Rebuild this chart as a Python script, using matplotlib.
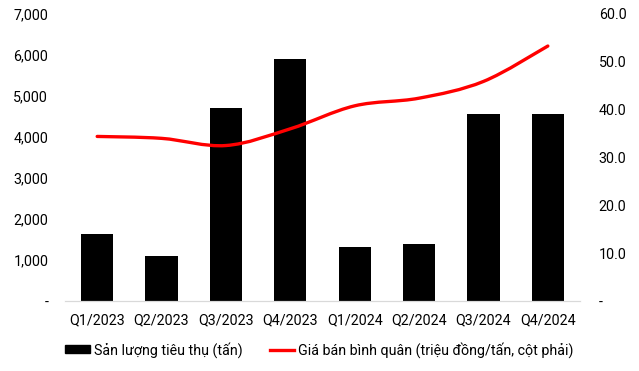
import matplotlib
matplotlib.use('Agg')
import matplotlib.pyplot as plt
from matplotlib.path import Path
from matplotlib.patches import PathPatch
from matplotlib.lines import Line2D
from matplotlib.patches import Rectangle
from matplotlib.ticker import FuncFormatter

plt.rcParams['font.family'] = ['Roboto', 'DejaVu Sans']
plt.rcParams['font.size'] = 10.3

quarters = ['Q1/2023', 'Q2/2023', 'Q3/2023', 'Q4/2023',
            'Q1/2024', 'Q2/2024', 'Q3/2024', 'Q4/2024']
volume = [1630, 1100, 4700, 5900, 1310, 1400, 4550, 4550]
price = [34.4, 34.0, 32.5, 36.0, 40.8, 42.4, 45.9, 53.3]

vol_label = 'Sản lượng tiêu thụ (tấn)'
price_label = 'Giá bán bình quân (triệu đồng/tấn, cột phải)'

fig = plt.figure(figsize=(6.39, 3.71), dpi=100)
ax = fig.add_axes([0.1017, 0.1887, 0.806, 0.7736])
ax2 = ax.twinx()

x = list(range(len(quarters)))
ax.bar(x, volume, width=0.5, color='black', zorder=2)
ax.set_xlim(-0.5, len(quarters) - 0.5)
ax.set_ylim(0, 7000)
ax.set_yticks(range(0, 7001, 1000))
ax.yaxis.set_major_formatter(FuncFormatter(lambda v, p: '-' if v == 0 else f'{v:,.0f}'))
ax.set_xticks(x)
ax.set_xticklabels(quarters)

ax2.set_ylim(0, 60)
ax2.set_yticks(range(0, 61, 10))
ax2.yaxis.set_major_formatter(FuncFormatter(lambda v, p: '-' if v == 0 else f'{v:.1f}'))

# smoothed line like excel (bezier through the points)
verts = [(x[0], price[0])]
codes = [Path.MOVETO]
n = len(price)
for i in range(n - 1):
    p0 = (x[max(i - 1, 0)], price[max(i - 1, 0)])
    p1 = (x[i], price[i])
    p2 = (x[i + 1], price[i + 1])
    p3 = (x[min(i + 2, n - 1)], price[min(i + 2, n - 1)])
    c1 = (p1[0] + (p2[0] - p0[0]) / 6, p1[1] + (p2[1] - p0[1]) / 6)
    c2 = (p2[0] - (p3[0] - p1[0]) / 6, p2[1] - (p3[1] - p1[1]) / 6)
    verts += [c1, c2, p2]
    codes += [Path.CURVE4] * 3
ax2.add_patch(PathPatch(Path(verts, codes), facecolor='none', edgecolor='#ff0000',
                        lw=2.4, capstyle='round', zorder=3))

for a in (ax, ax2):
    for s in ('top', 'left', 'right'):
        a.spines[s].set_visible(False)
    a.spines['bottom'].set_color('#d9d9d9')
    a.tick_params(length=0, colors='black')
ax.tick_params(axis='y', pad=12)
ax2.tick_params(axis='y', pad=13.5)
ax.tick_params(axis='x', pad=9)

handles = [Rectangle((0, 0), 1, 1, color='black'),
           Line2D([], [], color='#ff0000', lw=2.4)]
fig.legend(handles, [vol_label, price_label], loc='center', bbox_to_anchor=(0.5, 0.057),
           ncol=2, frameon=False, handlelength=1.7, handleheight=0.45,
           handletextpad=0.3, columnspacing=1.9)

plt.savefig('out.png', dpi=100)
